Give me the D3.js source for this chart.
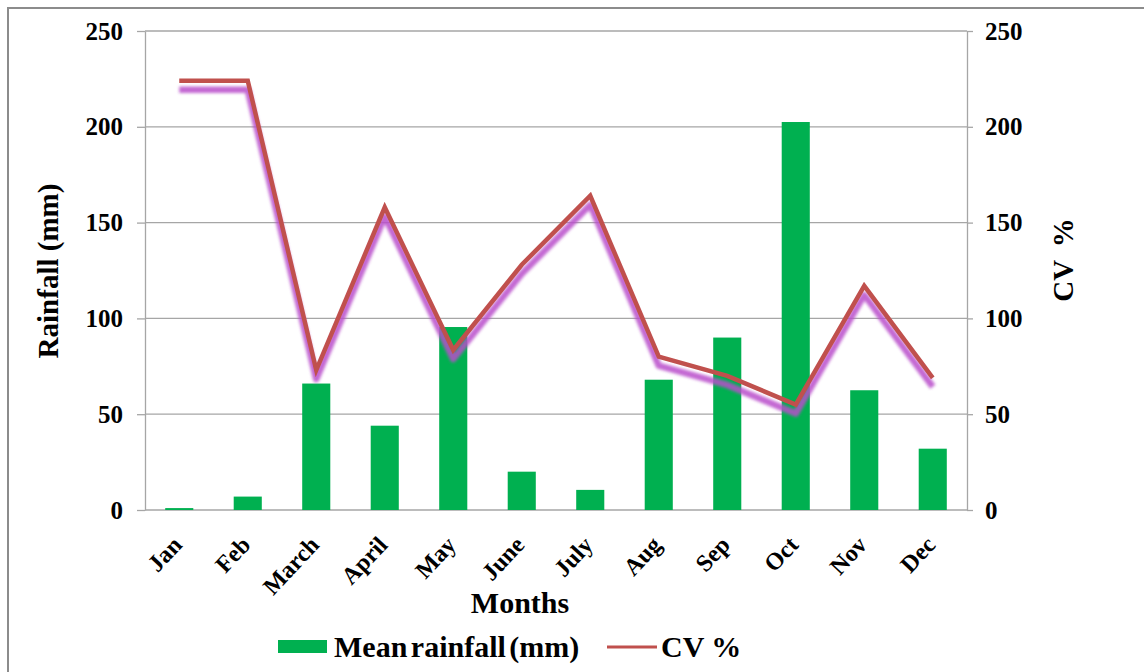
<!DOCTYPE html>
<html>
<head>
<meta charset="utf-8">
<script src="https://cdn.jsdelivr.net/npm/d3@7"></script>
<style>
  body { margin: 0; background: #fff; }
  svg text { font-family: "Liberation Serif", "Times New Roman", serif; font-weight: bold; fill: #000; }
  .grid line { stroke: #a6a6a6; stroke-width: 1.3; }
  .axis path, .axis line { stroke: #a6a6a6; stroke-width: 1.3; }
</style>
</head>
<body>
<div id="chart"></div>
<script>
// data
var months = ["Jan", "Feb", "March", "April", "May", "June", "July", "Aug", "Sep", "Oct", "Nov", "Dec"]
var rainfall = [1, 7, 66, 44, 95.5, 20, 10.5, 68, 90, 202.5, 62.5, 32]
var cv = [224, 224, 73, 158, 83.5, 128, 164, 80, 70, 55, 117, 69]
var yTicks = [0, 50, 100, 150, 200, 250]

var width = 1144, height = 672
var margin = { left: 145, right: 1144 - 967, top: 31, bottom: 672 - 510 }

var svg = d3.select("#chart").append("svg")
  .attr("width", width)
  .attr("height", height)

// frame (cropped: only top and left edges visible)
svg.append("path")
  .attr("d", "M8,672 L8,8 L1144,8")
  .attr("fill", "none")
  .attr("stroke", "#8c8c8c")
  .attr("stroke-width", 2)

var x = d3.scaleBand()
  .domain(months)
  .range([margin.left, width - margin.right])
  .paddingInner(0.59)
  .paddingOuter(0.295)

var yL = d3.scaleLinear().domain([0, 250]).range([height - margin.bottom, margin.top])
var yR = d3.scaleLinear().domain([0, 250]).range([height - margin.bottom, margin.top])

// gridlines
svg.append("g").attr("class", "grid")
  .selectAll("line")
  .data(yTicks.slice(1))
  .join("line")
    .attr("x1", margin.left)
    .attr("x2", width - margin.right)
    .attr("y1", function(d) { return yL(d) })
    .attr("y2", function(d) { return yL(d) })

// left axis
var gl = svg.append("g").attr("class", "axis")
  .attr("transform", "translate(" + margin.left + ",0)")
  .call(d3.axisLeft(yL).tickValues(yTicks).tickSize(8).tickSizeOuter(0).tickPadding(14))
gl.selectAll("text").style("font-size", "25px")

// right axis
var gr = svg.append("g").attr("class", "axis")
  .attr("transform", "translate(" + (width - margin.right) + ",0)")
  .call(d3.axisRight(yR).tickValues(yTicks).tickSize(6).tickSizeOuter(0).tickPadding(12))
gr.selectAll("text").style("font-size", "25px")

// bottom axis line
svg.append("line")
  .attr("x1", margin.left)
  .attr("x2", width - margin.right)
  .attr("y1", yL(0))
  .attr("y2", yL(0))
  .attr("stroke", "#a6a6a6")
  .attr("stroke-width", 1.3)

// bars
svg.append("g")
  .selectAll("rect")
  .data(rainfall)
  .join("rect")
    .attr("x", function(d, i) { return x(months[i]) })
    .attr("width", x.bandwidth())
    .attr("y", function(d) { return yL(d) })
    .attr("height", function(d) { return yL(0) - yL(d) })
    .attr("fill", "#00b050")

// CV line with purple glow shadow
var defs = svg.append("defs")
defs.append("filter").attr("id", "glow")
  .attr("x", "-10%").attr("y", "-10%").attr("width", "120%").attr("height", "120%")
  .append("feGaussianBlur").attr("stdDeviation", 1.4)

var line = d3.line()
  .x(function(d, i) { return x(months[i]) + x.bandwidth() / 2 })
  .y(function(d) { return yR(d) })

svg.append("path")
  .datum(cv)
  .attr("d", line)
  .attr("transform", "translate(0,9)")
  .attr("fill", "none")
  .attr("stroke", "#b94ecb")
  .attr("stroke-width", 6.5)
  .attr("stroke-linejoin", "round")
  .attr("opacity", 0.85)
  .attr("filter", "url(#glow)")

svg.append("path")
  .datum(cv)
  .attr("d", line)
  .attr("fill", "none")
  .attr("stroke", "#c0504d")
  .attr("stroke-width", 4.5)
  .attr("stroke-linejoin", "miter")

// month labels
svg.append("g")
  .selectAll("text")
  .data(months)
  .join("text")
    .attr("transform", function(d) {
      return "translate(" + (x(d) + x.bandwidth() / 2 + 4) + "," + (yL(0) + 36) + ") rotate(-47)"
    })
    .attr("text-anchor", "end")
    .style("font-size", "24px")
    .text(function(d) { return d })

// axis titles
svg.append("text")
  .attr("transform", "translate(58,271) rotate(-90)")
  .attr("text-anchor", "middle")
  .style("font-size", "29px")
  .text("Rainfall (mm)")

svg.append("text")
  .attr("transform", "translate(1073,260) rotate(-90)")
  .attr("text-anchor", "middle")
  .style("font-size", "29px")
  .style("word-spacing", "6px")
  .text("CV %")

svg.append("text")
  .attr("x", 520)
  .attr("y", 613)
  .attr("text-anchor", "middle")
  .style("font-size", "30px")
  .text("Months")

// legend
var legend = svg.append("g")
legend.append("rect")
  .attr("x", 278).attr("y", 640).attr("width", 49).attr("height", 13)
  .attr("fill", "#00b050")
legend.append("text")
  .attr("x", 334).attr("y", 657)
  .style("font-size", "30px")
  .style("word-spacing", "-4px")
  .text("Mean rainfall (mm)")
legend.append("line")
  .attr("x1", 607).attr("x2", 657).attr("y1", 647).attr("y2", 647)
  .attr("stroke", "#c0504d").attr("stroke-width", 3)
legend.append("text")
  .attr("x", 661).attr("y", 657)
  .style("font-size", "30px")
  .text("CV %")
</script>
</body>
</html>
